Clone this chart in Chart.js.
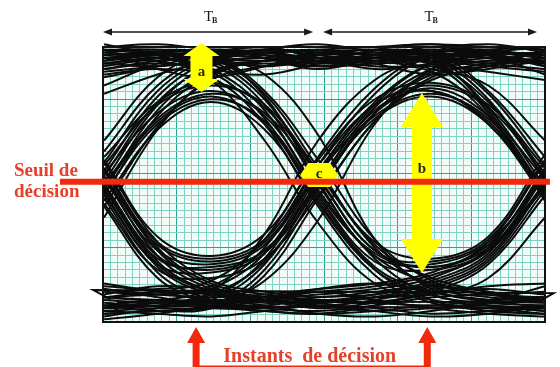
<!DOCTYPE html>
<html>
<head>
<meta charset="utf-8">
<script src="https://cdn.jsdelivr.net/npm/chart.js@4/dist/chart.umd.min.js"></script>
<style>
  html, body { margin: 0; padding: 0; background: #ffffff; }
  #wrap { width: 560px; height: 367px; }
</style>
</head>
<body>
<div id="wrap"><canvas id="eye" width="560" height="367"></canvas></div>
<script>
// Sample instants across two bit periods (unit = one bit period Tb)
const sampleTimes = [0, 0.25, 0.5, 0.75, 1, 1.265, 1.53, 1.795, 2.06];

// Received waveform, one row per overlaid sweep (amplitude 0..10)
const traces = [
  // steady "1"
  [9.6, 9.8, 9.9, 9.7, 9.5, 9.7, 9.9, 9.8, 9.6],
  [9.2, 9.5, 9.7, 9.6, 9.3, 9.4, 9.6, 9.7, 9.4],
  [10.0, 10.1, 9.9, 9.8, 9.9, 10.0, 10.1, 10.0, 9.9],
  [9.4, 9.3, 9.6, 9.9, 9.7, 9.5, 9.3, 9.5, 9.8],
  [9.8, 9.6, 9.4, 9.5, 9.8, 9.9, 9.7, 9.4, 9.2],
  [8.9, 9.3, 9.8, 10.0, 9.6, 9.2, 9.4, 9.8, 10.0],
  [8.6, 9.4, 9.9, 9.6, 9.2, 9.6, 10.0, 9.7, 9.0],
  [9.9, 9.2, 8.9, 9.3, 9.8, 9.4, 9.0, 9.3, 9.9],
  [8.3, 9.0, 9.5, 9.9, 10.1, 9.8, 9.4, 9.1, 8.8],
  [10.1, 9.7, 9.2, 9.0, 9.4, 9.9, 10.1, 9.8, 9.3],
  // "1" entered or left at the edges
  [5.3, 8.0, 9.3, 9.6, 9.4, 9.7, 9.8, 9.6, 9.5],
  [4.6, 7.5, 9.0, 9.5, 9.7, 9.8, 9.9, 9.7, 9.3],
  [5.8, 8.4, 9.6, 9.9, 9.8, 9.6, 9.7, 9.9, 10.0],
  [6.2, 8.6, 9.7, 10.0, 9.6, 9.4, 9.6, 9.8, 9.7],
  [4.2, 7.1, 8.8, 9.3, 9.5, 9.6, 9.5, 9.3, 9.1],
  [3.8, 7.0, 8.9, 9.5, 9.4, 9.6, 9.8, 9.9, 9.6],
  [6.6, 8.9, 9.8, 9.7, 9.5, 9.7, 9.6, 9.4, 9.5],
  [4.8, 7.7, 9.1, 9.4, 9.3, 9.5, 9.4, 8.0, 5.4],
  [5.5, 8.2, 9.5, 9.8, 9.6, 9.8, 9.6, 7.7, 4.7],
  [5.1, 7.9, 9.4, 9.8, 9.9, 9.7, 9.6, 8.1, 5.2],
  [9.5, 9.7, 9.8, 9.7, 9.6, 9.6, 9.5, 7.8, 4.9],
  [9.9, 9.8, 9.6, 9.5, 9.7, 9.9, 9.7, 8.3, 5.7],
  [9.3, 9.6, 9.9, 9.8, 9.5, 9.3, 9.1, 7.5, 4.5],
  [9.6, 9.5, 9.7, 9.9, 9.8, 9.7, 9.4, 7.6, 4.4],
  [9.1, 9.3, 9.5, 9.6, 9.4, 9.5, 9.8, 8.4, 6.0],
  [9.6, 9.7, 9.5, 9.3, 9.5, 9.6, 9.2, 8.6, 6.6],
  // falling through the middle crossing
  [9.6, 9.7, 9.4, 7.9, 5.0, 2.3, 1.0, 0.7, 0.6],
  [9.9, 9.9, 9.6, 8.3, 5.6, 2.7, 1.3, 0.9, 0.8],
  [9.2, 9.4, 9.1, 7.4, 4.4, 1.9, 0.8, 0.4, 0.3],
  [9.5, 9.8, 9.7, 8.4, 5.9, 3.0, 1.5, 1.0, 0.9],
  [9.0, 9.2, 8.9, 7.2, 4.2, 1.7, 0.7, 0.5, 0.6],
  [9.7, 9.8, 9.6, 9.0, 6.8, 3.0, 1.2, 0.8, 0.7],
  [9.4, 9.5, 8.8, 6.6, 3.6, 1.4, 0.8, 0.6, 0.5],
  [5.4, 7.6, 8.4, 7.5, 4.8, 2.4, 1.4, 1.0, 0.9],
  [4.9, 7.3, 8.2, 7.2, 4.5, 2.0, 1.1, 0.8, 0.5],
  [6.0, 8.0, 8.7, 7.8, 5.4, 2.8, 1.6, 1.1, 0.8],
  [4.4, 7.0, 8.0, 7.0, 4.3, 1.9, 1.0, 0.6, 0.4],
  [9.4, 9.6, 9.2, 7.7, 4.7, 2.5, 2.0, 2.8, 5.5],
  [5.0, 7.4, 8.3, 7.6, 5.2, 2.6, 2.0, 2.7, 5.0],
  [9.7, 9.8, 9.5, 8.1, 5.3, 2.6, 2.2, 3.0, 5.9],
  [5.7, 7.9, 8.6, 7.9, 5.5, 2.9, 2.3, 3.1, 6.1],
  [9.8, 9.9, 9.7, 8.2, 5.1, 2.4, 2.1, 2.9, 5.3],
  [4.7, 7.2, 8.1, 7.3, 4.6, 2.2, 1.9, 2.6, 4.9],
  // rising through the middle crossing
  [0.8, 0.7, 0.9, 2.3, 5.3, 7.9, 9.4, 9.8, 9.7],
  [0.4, 0.5, 0.6, 1.9, 4.8, 7.6, 9.1, 9.5, 9.4],
  [1.1, 1.0, 1.3, 2.7, 5.7, 8.3, 9.7, 10.0, 9.9],
  [0.3, 0.4, 0.5, 1.7, 4.5, 7.3, 8.9, 9.4, 9.6],
  [1.3, 1.2, 1.5, 3.0, 6.0, 8.5, 9.8, 10.1, 9.8],
  [0.6, 0.7, 1.1, 3.2, 6.6, 8.8, 9.6, 9.8, 9.6],
  [0.9, 0.8, 0.7, 1.5, 3.7, 7.2, 9.2, 9.7, 9.8],
  [5.0, 2.4, 1.9, 2.6, 5.1, 7.8, 9.2, 9.6, 9.5],
  [4.6, 2.1, 1.8, 2.5, 4.9, 7.6, 9.0, 9.3, 9.6],
  [5.3, 2.8, 2.2, 2.9, 5.5, 8.0, 9.4, 9.7, 9.4],
  [4.3, 1.9, 1.6, 2.3, 4.6, 7.3, 8.8, 9.2, 9.5],
  [0.5, 0.6, 1.0, 2.2, 4.9, 7.6, 8.5, 7.5, 5.2],
  [0.9, 0.8, 1.2, 2.5, 5.4, 7.9, 8.4, 7.3, 4.7],
  [0.7, 0.6, 0.8, 2.1, 5.0, 7.7, 8.4, 7.2, 4.5],
  [5.2, 2.6, 2.1, 2.8, 5.4, 7.5, 8.3, 7.4, 4.8],
  [5.6, 2.9, 2.3, 3.0, 5.7, 7.9, 8.6, 7.8, 5.3],
  [5.9, 3.1, 2.4, 3.2, 5.9, 8.1, 8.7, 7.9, 5.6],
  [4.8, 2.3, 2.0, 2.6, 5.0, 7.4, 8.2, 7.2, 4.6],
  // steady "0"
  [0.4, 0.3, 0.2, 0.4, 0.6, 0.5, 0.3, 0.4, 0.5],
  [0.9, 1.0, 1.1, 0.9, 0.8, 0.9, 1.1, 1.2, 1.0],
  [0.2, 0.5, 0.8, 0.6, 0.3, 0.2, 0.4, 0.7, 0.8],
  [1.2, 0.9, 0.6, 0.5, 0.7, 1.0, 1.3, 1.1, 0.7],
  [0.6, 0.4, 0.5, 0.8, 1.1, 0.8, 0.5, 0.3, 0.2],
  [1.4, 1.1, 0.8, 0.9, 1.2, 1.4, 1.1, 0.8, 1.3],
  [0.1, 0.3, 0.6, 0.9, 0.7, 0.4, 0.2, 0.3, 0.6],
  [1.0, 1.3, 1.2, 0.8, 0.5, 0.7, 1.0, 1.3, 1.4],
  // "0" entered or left at the edges
  [5.0, 2.2, 1.1, 0.7, 0.8, 0.7, 0.6, 0.8, 0.9],
  [5.5, 2.6, 1.3, 0.9, 0.6, 0.4, 0.5, 0.6, 0.4],
  [4.5, 1.8, 0.8, 0.5, 0.4, 0.6, 0.9, 1.0, 1.1],
  [5.8, 2.9, 1.5, 1.1, 0.9, 1.1, 1.3, 1.0, 0.8],
  [4.2, 1.6, 0.7, 0.4, 0.3, 0.4, 0.6, 0.5, 0.3],
  [0.6, 0.8, 0.7, 0.6, 0.9, 1.0, 1.5, 2.5, 5.3],
  [0.3, 0.4, 0.5, 0.4, 0.3, 0.6, 1.2, 2.2, 4.8],
  [0.9, 1.1, 1.0, 0.8, 0.6, 0.8, 1.3, 2.3, 5.0],
  [1.2, 1.0, 0.9, 1.0, 1.2, 1.4, 1.8, 2.9, 5.8],
  [0.5, 0.7, 0.6, 0.8, 0.7, 0.9, 1.0, 1.6, 3.8],
  [4.7, 2.0, 1.0, 0.8, 0.7, 0.9, 1.4, 2.4, 5.1],
  [5.3, 2.4, 1.2, 0.9, 1.0, 1.2, 1.6, 2.7, 5.6],
  [4.9, 2.1, 1.1, 0.9, 1.1, 1.3, 1.7, 2.6, 5.4],
  [5.6, 2.7, 1.4, 1.0, 0.8, 0.7, 1.1, 2.1, 4.6]
];

// Low-level sweeps that run past the screen edges and fold back
const tailTimes = [
  [0.03, -0.05, 2.1, 2.03, 0.06],
  [0.08, 0.03, 2.0, 1.96]
];
const tailValues = [
  [0.82, 1.16, 1.05, 0.74, 0.72],
  [0.36, 0.58, 0.52, 0.32]
];

// Decision threshold and sampling instants
const threshold = 5.1;
const decisionInstants = [0.43, 1.51];

// Annotation texts
const thresholdLabel = ["Seuil de", "décision"];
const instantsLabel = "Instants  de décision";
const periodLabel = ["T", "B"];
const markerLabels = ["a", "b", "c"];

// Oscilloscope graticule: cell counts
const gridCols = 60;
const gridRows = 37;

const RED = "#f2290c";
const RED_TEXT = "#e4412b";
const YELLOW = "#ffff00";

function cellTicks(n) {
  const t = [];
  for (let i = 0; i <= n; i++) t.push({ value: i });
  return t;
}

function vArrow(ctx, cx, yTop, yBot, shaftW, headW, headH) {
  ctx.beginPath();
  ctx.moveTo(cx, yTop);
  ctx.lineTo(cx + headW / 2, yTop + headH);
  ctx.lineTo(cx + shaftW / 2, yTop + headH);
  ctx.lineTo(cx + shaftW / 2, yBot - headH);
  ctx.lineTo(cx + headW / 2, yBot - headH);
  ctx.lineTo(cx, yBot);
  ctx.lineTo(cx - headW / 2, yBot - headH);
  ctx.lineTo(cx - shaftW / 2, yBot - headH);
  ctx.lineTo(cx - shaftW / 2, yTop + headH);
  ctx.lineTo(cx - headW / 2, yTop + headH);
  ctx.closePath();
  ctx.fill();
}

function hArrowLine(ctx, x1, x2, y) {
  ctx.beginPath();
  ctx.moveTo(x1 + 6, y);
  ctx.lineTo(x2 - 6, y);
  ctx.stroke();
  ctx.beginPath();
  ctx.moveTo(x1, y); ctx.lineTo(x1 + 9, y - 3.5); ctx.lineTo(x1 + 9, y + 3.5); ctx.closePath();
  ctx.fill();
  ctx.beginPath();
  ctx.moveTo(x2, y); ctx.lineTo(x2 - 9, y - 3.5); ctx.lineTo(x2 - 9, y + 3.5); ctx.closePath();
  ctx.fill();
}

const eyeDecor = {
  id: "eyeDecor",
  beforeDraw(chart) {
    const { ctx, chartArea: a } = chart;
    ctx.save();
    ctx.fillStyle = "#ffffff";
    ctx.fillRect(0, 0, chart.width, chart.height);
    ctx.fillStyle = "#f1fbf8";
    ctx.fillRect(a.left, a.top, a.right - a.left, a.bottom - a.top);
    ctx.restore();
  },
  afterDatasetsDraw(chart) {
    const { ctx, chartArea: a, scales } = chart;
    const x = scales.x, y = scales.y;
    ctx.save();

    // frame of the graticule
    ctx.strokeStyle = "#111111";
    ctx.lineWidth = 2;
    ctx.strokeRect(a.left, a.top, a.right - a.left, a.bottom - a.top);

    // yellow markers
    ctx.fillStyle = YELLOW;
    const ax = x.getPixelForValue(0.455);
    vArrow(ctx, ax, y.getPixelForValue(10.15), y.getPixelForValue(8.36), 22, 36, 13);
    const bx = x.getPixelForValue(1.485);
    vArrow(ctx, bx, y.getPixelForValue(8.33), y.getPixelForValue(1.78), 20, 42, 34);
    const cx = x.getPixelForValue(1.005), cy = y.getPixelForValue(5.35);
    ctx.beginPath();
    ctx.moveTo(cx - 19, cy);
    ctx.lineTo(cx - 11, cy - 12);
    ctx.lineTo(cx + 11, cy - 12);
    ctx.lineTo(cx + 19, cy);
    ctx.lineTo(cx + 11, cy + 12);
    ctx.lineTo(cx - 11, cy + 12);
    ctx.closePath();
    ctx.fill();

    ctx.fillStyle = "#2a2a10";
    ctx.font = "bold 15px 'Liberation Serif', serif";
    ctx.textAlign = "center";
    ctx.textBaseline = "middle";
    ctx.fillText(markerLabels[0], ax, y.getPixelForValue(9.08));
    ctx.fillText(markerLabels[1], bx, y.getPixelForValue(5.55));
    ctx.fillText(markerLabels[2], cx, cy - 1);

    // decision threshold
    const ty = y.getPixelForValue(threshold);
    ctx.strokeStyle = RED;
    ctx.lineWidth = 6;
    ctx.beginPath();
    ctx.moveTo(x.getPixelForValue(-0.206), ty);
    ctx.lineTo(x.getPixelForValue(2.083), ty);
    ctx.stroke();

    ctx.fillStyle = RED_TEXT;
    ctx.font = "bold 19px 'Liberation Serif', serif";
    ctx.textAlign = "left";
    ctx.textBaseline = "alphabetic";
    ctx.fillText(thresholdLabel[0], 14, ty - 6);
    ctx.fillText(thresholdLabel[1], 14, ty + 15);

    // decision instants
    ctx.fillStyle = RED;
    const tips = decisionInstants.map(v => x.getPixelForValue(v));
    tips.forEach(px => {
      ctx.beginPath();
      ctx.moveTo(px, a.bottom + 5);
      ctx.lineTo(px + 9, a.bottom + 21);
      ctx.lineTo(px + 3.5, a.bottom + 21);
      ctx.lineTo(px + 3.5, chart.height);
      ctx.lineTo(px - 3.5, chart.height);
      ctx.lineTo(px - 3.5, a.bottom + 21);
      ctx.lineTo(px - 9, a.bottom + 21);
      ctx.closePath();
      ctx.fill();
    });
    ctx.fillRect(tips[0], chart.height - 1.5, tips[1] - tips[0], 1.5);
    ctx.fillStyle = RED_TEXT;
    ctx.font = "bold 20px 'Liberation Serif', serif";
    ctx.textAlign = "center";
    ctx.fillText(instantsLabel, (tips[0] + tips[1]) / 2 - 2, chart.height - 5);

    // bit periods
    ctx.fillStyle = "#1a1a1a";
    ctx.strokeStyle = "#1a1a1a";
    ctx.lineWidth = 1.6;
    const ay = a.top - 15;
    const p0 = x.getPixelForValue(0), p1 = x.getPixelForValue(1), p2 = x.getPixelForValue(2.06);
    hArrowLine(ctx, a.left, p1 - 5, ay);
    hArrowLine(ctx, p1 + 5, p2 - 8, ay);
    [(p0 + p1) / 2, (p1 + p2) / 2].forEach(mx => {
      ctx.font = "15px 'Liberation Serif', serif";
      ctx.textAlign = "right";
      ctx.fillText(periodLabel[0], mx + 2, 21);
      ctx.font = "bold 8px 'Liberation Serif', serif";
      ctx.textAlign = "left";
      ctx.fillText(periodLabel[1], mx + 1, 23);
    });
    ctx.restore();
  }
};

const sweepStyle = { borderColor: "#0b0b0b", borderWidth: 2, pointRadius: 0, clip: false };

const datasets = traces.map(row => ({
  ...sweepStyle,
  data: row.map((v, i) => ({ x: sampleTimes[i], y: v })),
  tension: 0.38
})).concat(tailTimes.map((ts, k) => ({
  ...sweepStyle,
  data: ts.map((t, i) => ({ x: t, y: tailValues[k][i] })),
  tension: 0
})));

new Chart(document.getElementById("eye"), {
  type: "line",
  data: { datasets },
  options: {
    responsive: false,
    devicePixelRatio: 1,
    animation: false,
    events: [],
    layout: { padding: { left: 103, top: 47, right: 15, bottom: 45 } },
    plugins: { legend: { display: false }, tooltip: { enabled: false } },
    scales: {
      x: { type: "linear", min: -0.005, max: 2.06, display: false },
      y: { type: "linear", min: 0, max: 10, display: false },
      gx: {
        type: "linear", axis: "x", position: "bottom", min: 0, max: gridCols,
        afterBuildTicks: s => { s.ticks = cellTicks(gridCols); },
        ticks: { display: false },
        border: { display: false },
        grid: {
          drawTicks: false, lineWidth: 1,
          color: c => (c.tick && c.tick.value % 10 === 0) ? "#2aa394" : "#7fd3c4"
        }
      },
      gy: {
        type: "linear", axis: "y", position: "left", min: 0, max: gridRows,
        afterBuildTicks: s => { s.ticks = cellTicks(gridRows); },
        ticks: { display: false },
        border: { display: false },
        grid: {
          drawTicks: false, lineWidth: 1,
          color: c => (c.tick && c.tick.value % 10 === 0) ? "#2aa394" : "#7fd3c4"
        }
      }
    }
  },
  plugins: [eyeDecor]
});
</script>
</body>
</html>
